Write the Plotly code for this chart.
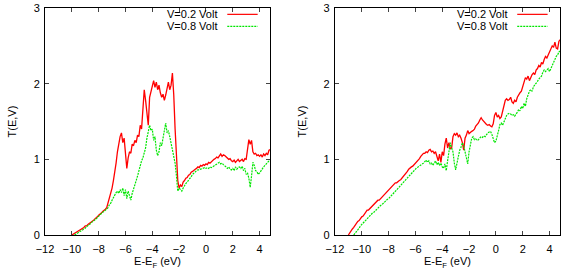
import plotly.graph_objects as go
from plotly.subplots import make_subplots

# ---- data (energy grid: start value, step 0.1 eV) ----
STEP = 0.1
left_red_start = -10.0
left_red = [0.00,0.01,0.02,0.03,0.04,0.05,0.07,0.08,0.09,0.10,
            0.12,0.12,0.14,0.15,0.17,0.18,0.19,0.21,0.22,0.24,
            0.26,0.27,0.29,0.31,0.32,0.34,0.36,0.42,0.48,0.55,
            0.62,0.72,0.82,0.95,1.10,1.22,1.30,1.35,1.22,1.28,
            1.05,0.88,1.02,1.10,1.08,1.20,1.18,1.25,1.22,1.32,
            1.30,1.45,1.40,1.75,1.92,1.78,1.62,1.45,1.82,1.90,
            1.98,2.04,1.95,2.02,1.92,1.98,1.88,1.82,1.86,1.78,
            1.85,1.95,2.02,1.92,1.98,2.14,1.85,1.40,1.00,0.72,
            0.62,0.66,0.64,0.70,0.72,0.75,0.76,0.79,0.80,0.83,
            0.84,0.86,0.87,0.88,0.90,0.89,0.92,0.91,0.93,0.92,
            0.94,0.93,0.96,0.95,0.97,0.99,1.00,1.01,1.03,1.02,
            1.05,1.07,1.04,1.06,1.05,1.03,1.02,1.00,1.01,0.98,
            0.97,0.99,0.96,0.98,1.00,0.97,0.99,1.00,0.97,1.01,
            1.00,1.15,1.26,1.20,1.25,1.10,1.07,1.08,1.05,1.06,
            1.04,1.06,1.03,1.07,1.05,1.08,1.06,1.12,1.13]

left_green_start = -9.8
left_green = [0.00,0.01,0.02,0.03,0.04,0.05,0.06,0.08,0.09,0.11,
              0.12,0.14,0.15,0.17,0.18,0.20,0.21,0.23,0.25,0.27,
              0.28,0.30,0.31,0.33,0.34,0.36,0.40,0.42,0.46,0.50,
              0.52,0.56,0.58,0.55,0.60,0.56,0.62,0.52,0.60,0.48,
              0.58,0.50,0.46,0.55,0.60,0.66,0.72,0.78,0.85,0.92,
              0.98,1.02,1.08,1.15,1.28,1.35,1.45,1.38,1.40,1.25,
              1.30,1.12,1.05,1.10,1.22,1.18,1.30,1.40,1.48,1.35,
              1.38,1.30,1.20,1.12,1.00,0.95,0.78,0.58,0.62,0.60,
              0.58,0.62,0.66,0.68,0.70,0.72,0.75,0.77,0.80,0.82,
              0.83,0.85,0.86,0.86,0.87,0.88,0.88,0.89,0.88,0.89,
              0.88,0.90,0.89,0.90,0.91,0.92,0.93,0.95,0.96,0.94,
              0.95,0.93,0.92,0.90,0.88,0.90,0.87,0.86,0.88,0.85,
              0.90,0.87,0.89,0.90,0.88,0.91,0.85,0.88,0.80,0.82,
              0.75,0.63,0.78,0.96,0.92,0.85,0.84,0.80,0.82,0.85,
              0.88,0.90,0.92,0.94,0.96,0.98,1.00]

right_red_start = -11.0
right_red = [0.00,0.03,0.06,0.08,0.10,0.13,0.16,0.18,0.19,0.22,
             0.24,0.25,0.28,0.31,0.33,0.33,0.35,0.37,0.38,0.41,
             0.43,0.45,0.46,0.46,0.48,0.50,0.51,0.53,0.56,0.58,
             0.59,0.61,0.63,0.66,0.68,0.69,0.69,0.71,0.72,0.73,
             0.75,0.78,0.80,0.82,0.84,0.87,0.89,0.90,0.91,0.93,
             0.95,0.96,0.98,1.01,1.04,1.06,1.08,1.08,1.10,1.09,
             1.12,1.13,1.10,1.11,1.08,1.10,1.04,0.98,1.07,0.96,
             1.10,1.05,1.20,1.28,1.15,1.22,1.14,1.15,1.30,1.34,
             1.32,1.35,1.30,1.32,1.28,1.22,1.12,1.28,1.32,1.38,
             1.34,1.36,1.37,1.38,1.40,1.44,1.46,1.48,1.52,1.55,
             1.52,1.50,1.47,1.46,1.45,1.46,1.44,1.43,1.47,1.58,
             1.62,1.56,1.58,1.54,1.56,1.64,1.72,1.78,1.80,1.78,
             1.79,1.82,1.76,1.74,1.78,1.76,1.82,1.86,1.88,1.90,
             1.96,2.03,2.08,2.06,2.10,2.04,2.09,2.12,2.14,2.12,
             2.18,2.20,2.24,2.22,2.28,2.26,2.32,2.36,2.34,2.38,
             2.42,2.46,2.50,2.48,2.55,2.47,2.46,2.56,2.58]

right_green_start = -10.6
right_green = [0.00,0.02,0.05,0.07,0.09,0.12,0.14,0.16,0.18,0.20,
               0.21,0.23,0.25,0.27,0.29,0.30,0.32,0.33,0.35,0.37,
               0.39,0.40,0.42,0.44,0.45,0.47,0.48,0.50,0.52,0.54,
               0.55,0.57,0.59,0.61,0.63,0.65,0.67,0.69,0.71,0.73,
               0.75,0.77,0.79,0.81,0.84,0.86,0.88,0.89,0.90,0.91,
               0.92,0.93,0.95,0.97,0.99,0.96,0.98,0.94,0.95,0.92,
               0.96,0.98,0.93,0.96,0.92,0.95,0.90,0.88,0.94,0.85,
               0.98,1.12,1.22,1.15,1.10,0.95,0.86,0.95,1.05,1.12,
               1.16,1.22,1.18,1.10,1.00,0.94,1.10,1.22,1.28,1.30,
               1.26,1.27,1.25,1.26,1.28,1.30,1.29,1.31,1.30,1.33,
               1.35,1.36,1.37,1.33,1.26,1.22,1.24,1.30,1.38,1.46,
               1.48,1.45,1.50,1.55,1.58,1.60,1.61,1.60,1.58,1.59,
               1.57,1.60,1.62,1.66,1.64,1.70,1.67,1.74,1.70,1.80,
               1.86,1.90,1.92,1.90,1.96,1.98,2.00,2.03,2.06,2.08,
               2.10,2.15,2.18,2.16,2.18,2.20,2.16,2.20,2.26,2.30,
               2.33,2.36,2.38,2.42,2.43]

series_names = ["V=0.2 Volt", "V=0.8 Volt"]
x_ticks = [-12, -10, -8, -6, -4, -2, 0, 2, 4]
y_ticks = [0, 1, 2, 3]
RED = "#ff0000"
GREEN = "#00e600"


def grid(start, vals):
    return [round(start + STEP * i, 2) for i in range(len(vals))]


fig = make_subplots(rows=1, cols=2, horizontal_spacing=0.126)

panels = [
    (1, (left_red_start, left_red), (left_green_start, left_green)),
    (2, (right_red_start, right_red), (right_green_start, right_green)),
]
for col, red, green in panels:
    fig.add_trace(go.Scatter(x=grid(*red), y=red[1], mode="lines", name=series_names[0],
                             line=dict(color=RED, width=1.3), showlegend=False), row=1, col=col)
    fig.add_trace(go.Scatter(x=grid(*green), y=green[1], mode="lines", name=series_names[1],
                             line=dict(color=GREEN, width=1.2, dash="2px,1px"), showlegend=False),
                  row=1, col=col)

font = dict(family="Liberation Sans, Arial, sans-serif", size=11, color="#000000")
for col in (1, 2):
    fig.update_xaxes(range=[-12, 4.78], tickvals=x_ticks, ticks="inside", ticklen=4,
                     showline=True, linecolor="black", linewidth=1, mirror="ticks",
                     showgrid=False, zeroline=False, tickfont=font, ticklabelstandoff=4,
                     automargin=False,
                     title=dict(text="E-E<sub>F</sub> (eV)", font=font, standoff=3),
                     row=1, col=col)
    fig.update_yaxes(range=[0, 3], tickvals=y_ticks, ticks="inside", ticklen=4,
                     showline=True, linecolor="black", linewidth=1, mirror="ticks",
                     showgrid=False, zeroline=False, tickfont=font, ticklabelstandoff=2,
                     automargin=False,
                     title=dict(text="T(E,V)", font=font, standoff=14),
                     row=1, col=col)

# gnuplot-style key: text right-aligned, line sample to its right
for xref in ("x domain", "x2 domain"):
    yref = "y domain" if xref == "x domain" else "y2 domain"
    for i, (name, color, dash) in enumerate([(series_names[0], RED, "solid"),
                                            (series_names[1], GREEN, "2px,1px")]):
        yy = 0.972 - i * 0.053
        fig.add_annotation(x=0.775, y=yy, xref=xref, yref=yref, text=name, showarrow=False,
                           xanchor="right", yanchor="middle", font=font)
        fig.add_shape(type="line", xref=xref, yref=yref, x0=0.81, x1=0.945, y0=yy, y1=yy,
                      line=dict(color=color, width=1.2, dash=dash))

fig.update_layout(width=581, height=273, margin=dict(l=45, r=21, t=8, b=38),
                  paper_bgcolor="white", plot_bgcolor="white", font=font, showlegend=False)

fig.write_html("out.html", config={"displayModeBar": False},
               post_script="document.body.style.margin='0';document.body.style.padding='0';")
